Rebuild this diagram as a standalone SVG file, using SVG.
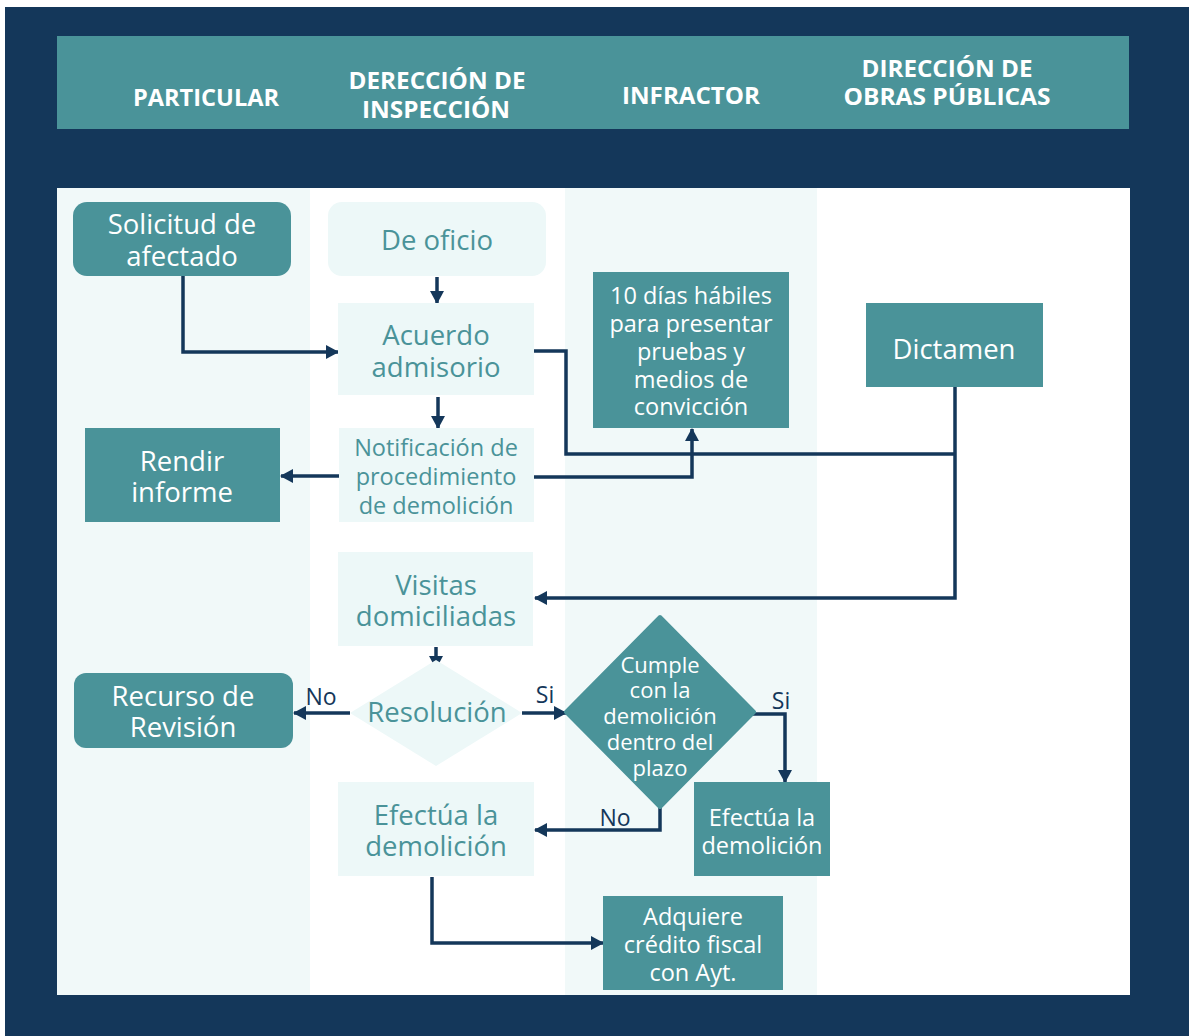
<svg xmlns="http://www.w3.org/2000/svg" width="1189" height="1036" viewBox="0 0 1189 1036">
<style>
.hd{font-family:"Open Sans","Liberation Sans",sans-serif;font-weight:bold;font-size:23px;fill:#ffffff;text-anchor:middle}
.tw{font-family:"Open Sans","Liberation Sans",sans-serif;font-size:27.5px;fill:#ffffff;text-anchor:middle}
.tt{font-family:"Open Sans","Liberation Sans",sans-serif;font-size:27.5px;fill:#4A9399;text-anchor:middle}
.sm{font-size:23.5px}
.xs{font-size:22px}
.dk{fill:#4A9399}
.lt{fill:#EDF8F8}
.lb{font-family:"Open Sans","Liberation Sans",sans-serif;font-size:23px;fill:#14375A;text-anchor:middle}
.cn{fill:none;stroke:#14375A;stroke-width:3.5}
</style>
<defs>
<marker id="ah" markerUnits="userSpaceOnUse" markerWidth="14" markerHeight="16" viewBox="0 0 14 16" refX="12" refY="8" orient="auto">
<path d="M0,1 L13,8 L0,15 Z" fill="#14375A"/>
</marker>
</defs>
<rect x="0" y="0" width="1189" height="1036" fill="#ffffff"/>
<rect x="5" y="7" width="1184" height="1029" fill="#14375A"/>
<rect x="57" y="36" width="1072" height="93" fill="#4A9399"/>
<g id="header">
<text class="hd" x="206" y="106" textLength="146" lengthAdjust="spacingAndGlyphs">PARTICULAR</text>
<text class="hd" x="437" y="89" textLength="177" lengthAdjust="spacingAndGlyphs">DERECCIÓN DE</text>
<text class="hd" x="436" y="118" textLength="148" lengthAdjust="spacingAndGlyphs">INSPECCIÓN</text>
<text class="hd" x="691" y="104" textLength="138" lengthAdjust="spacingAndGlyphs">INFRACTOR</text>
<text class="hd" x="947" y="77" textLength="171" lengthAdjust="spacingAndGlyphs">DIRECCIÓN DE</text>
<text class="hd" x="947" y="105" textLength="207" lengthAdjust="spacingAndGlyphs">OBRAS PÚBLICAS</text>
</g>
<g id="lanes">
<rect x="57" y="188" width="1073" height="807" fill="#ffffff"/>
<rect x="57" y="188" width="253" height="807" fill="#F1F9F9"/>
<rect x="565" y="188" width="252" height="807" fill="#F1F9F9"/>
</g>
<g id="connectors">
<path class="cn" d="M437,277 V303" marker-end="url(#ah)"/>
<path class="cn" d="M183,276 V352 H338" marker-end="url(#ah)"/>
<path class="cn" d="M438,397 V428" marker-end="url(#ah)"/>
<path class="cn" d="M339,476 H281" marker-end="url(#ah)"/>
<path class="cn" d="M534,477 H692 V429" marker-end="url(#ah)"/>
<path class="cn" d="M534,351 H566 V454 H955"/>
<path class="cn" d="M955,387 V598 H535" marker-end="url(#ah)"/>
<path class="cn" d="M436,647 V668" marker-end="url(#ah)"/>
<path class="cn" d="M350,713 H294" marker-end="url(#ah)"/>
<path class="cn" d="M522,713 H566" marker-end="url(#ah)"/>
<path class="cn" d="M753,714 H785 V782" marker-end="url(#ah)"/>
<path class="cn" d="M660,806 V830 H535" marker-end="url(#ah)"/>
<path class="cn" d="M432,877 V943 H603" marker-end="url(#ah)"/>
<text class="lb" x="321" y="705">No</text>
<text class="lb" x="545" y="703">Si</text>
<text class="lb" x="781" y="709">Si</text>
<text class="lb" x="615" y="826">No</text>
</g>
<g id="solicitud">
<rect class="dk" x="73" y="202" width="218" height="74" rx="14"/>
<text class="tw" x="182" y="234">Solicitud de</text>
<text class="tw" x="182" y="266">afectado</text>
</g>
<g id="de-oficio">
<rect class="lt" x="328" y="202" width="218" height="74" rx="14"/>
<text class="tt" x="437" y="250">De oficio</text>
</g>
<g id="acuerdo">
<rect class="lt" x="338" y="303" width="196" height="92"/>
<text class="tt" x="436" y="345">Acuerdo</text>
<text class="tt" x="436" y="377">admisorio</text>
</g>
<g id="notificacion">
<rect class="lt" x="339" y="428" width="195" height="94"/>
<text class="tt sm" x="436" y="456">Notificación de</text>
<text class="tt sm" x="436" y="485">procedimiento</text>
<text class="tt sm" x="436" y="514">de demolición</text>
</g>
<g id="rendir">
<rect class="dk" x="85" y="428" width="195" height="94"/>
<text class="tw" x="182" y="471">Rendir</text>
<text class="tw" x="182" y="502">informe</text>
</g>
<g id="diez-dias">
<rect class="dk" x="593" y="272" width="196" height="156"/>
<text class="tw sm" x="691" y="304">10 días hábiles</text>
<text class="tw sm" x="691" y="332">para presentar</text>
<text class="tw sm" x="691" y="360">pruebas y</text>
<text class="tw sm" x="691" y="388">medios de</text>
<text class="tw sm" x="691" y="415">convicción</text>
</g>
<g id="dictamen">
<rect class="dk" x="866" y="303" width="177" height="84"/>
<text class="tw" x="954" y="359">Dictamen</text>
</g>
<g id="visitas">
<rect class="lt" x="338" y="552" width="195" height="94"/>
<text class="tt" x="436" y="595">Visitas</text>
<text class="tt" x="436" y="626">domiciliadas</text>
</g>
<g id="resolucion">
<path class="lt" d="M436,660 L522,713 L436,766 L350,713 Z"/>
<text class="tt" x="437" y="722">Resolución</text>
</g>
<g id="cumple">
<path class="dk" d="M660,617 L754,712 L660,807 L566,712 Z" stroke="#4A9399" stroke-width="4" stroke-linejoin="round"/>
<text class="tw xs" x="660" y="673">Cumple</text>
<text class="tw xs" x="660" y="698">con la</text>
<text class="tw xs" x="660" y="724">demolición</text>
<text class="tw xs" x="660" y="750">dentro del</text>
<text class="tw xs" x="660" y="776">plazo</text>
</g>
<g id="recurso">
<rect class="dk" x="74" y="673" width="219" height="75" rx="12"/>
<text class="tw" x="183" y="706">Recurso de</text>
<text class="tw" x="183" y="737">Revisión</text>
</g>
<g id="efectua-1">
<rect class="lt" x="338" y="782" width="196" height="94"/>
<text class="tt" x="436" y="825">Efectúa la</text>
<text class="tt" x="436" y="856">demolición</text>
</g>
<g id="efectua-2">
<rect class="dk" x="694" y="782" width="136" height="94"/>
<text class="tw sm" x="762" y="826">Efectúa la</text>
<text class="tw sm" x="762" y="854">demolición</text>
</g>
<g id="adquiere">
<rect class="dk" x="603" y="896" width="180" height="94"/>
<text class="tw sm" x="693" y="925">Adquiere</text>
<text class="tw sm" x="693" y="953">crédito fiscal</text>
<text class="tw sm" x="693" y="981">con Ayt.</text>
</g>
</svg>
